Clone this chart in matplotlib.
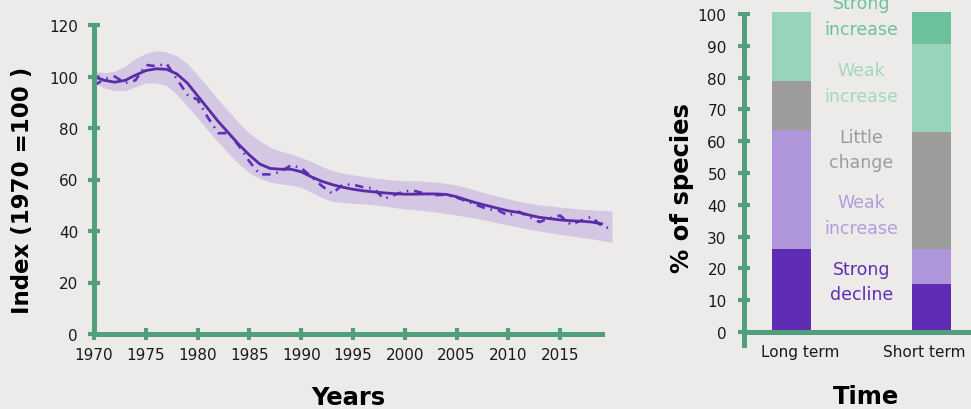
"""Index trend (1970 = 100) and share of species by trend category."""
import numpy as np
import matplotlib
matplotlib.use('Agg')
import matplotlib.pyplot as plt

BG = '#ECEBE9'
GREEN = '#529F7D'
PURPLE = '#5A2BA6'
BAND = '#D4C7E3'

# ── left panel data ──
years = np.arange(1970, 2021)
smooth = [100, 98.5, 97.8, 98.5, 100.5, 102.3, 103, 102.8, 101, 97.5,
          92.5, 87.5, 82.5, 78, 73.5, 69.5, 66, 64.3, 64, 64,
          63, 61, 59.3, 58, 57, 56.2, 55.6, 55.2, 54.8, 54.5,
          54.3, 54.3, 54.4, 54.4, 54.2, 53.3, 52, 50.8, 49.8, 48.8,
          47.8, 47.2, 46.2, 45.3, 44.8, 44.3, 44, 43.8, 43.5, 42.8]
raw = [96.5, 99, 100, 97.5, 98.5, 104.5, 104, 105, 99, 93,
       91, 84, 78, 78, 73, 67, 62, 62, 63, 65.5,
       64.5, 61, 57.5, 54.5, 58, 58, 57, 56.5, 52.5, 54,
       55.5, 55.5, 54.5, 54, 54, 53, 51.5, 50, 48.5, 48,
       46, 47.5, 45.5, 43.5, 45, 46, 42.5, 44, 45.5, 42,
       40.8]
upper = [102, 101.5, 102, 104, 107, 109, 110, 109.5, 108, 105,
         100.5, 96, 91, 86.5, 82, 78, 75, 72.5, 71, 70,
         68.5, 67, 65, 63.5, 62.5, 61.8, 61.2, 60.6, 60.2, 59.8,
         59.5, 59.5, 59.3, 59, 58.5, 57.8, 56.8, 55.6, 54.5, 53.5,
         52.5, 51.5, 50.8, 50.2, 49.8, 49.3, 48.9, 48.5, 48.2, 48,
         47.8]
lower = [97.5, 95.5, 94.5, 94.5, 96, 97.5, 97.5, 96.5, 93, 88.5,
         84, 79, 74.5, 70, 66, 62.5, 60.5, 59, 58.3, 57.8,
         57, 55, 53, 51.5, 51, 50.8, 50.5, 50.2, 49.7, 49.1,
         48.6, 48.2, 47.8, 47.4, 46.8, 46.2, 45.5, 44.8, 44, 43.1,
         42.3, 41.5, 40.7, 40, 39.3, 38.7, 38.1, 37.5, 37, 36.3,
         35.5]
baseline_years = [1970, 2019]
baseline = [100, 100]

# ── right panel data ──
periods = ['Long term', 'Short term']
categories = ['Strong decline', 'Weak decline', 'Little change',
              'Weak increase', 'Strong increase']
share_long = [26, 37.5, 15.5, 21.5, 0]
share_short = [15, 11, 37, 27.5, 10]
cat_colors = ['#5E2DB3', '#AF96DA', '#9C9C9A', '#98D4B9', '#6CC19D']
cat_labels = ['Strong\ndecline', 'Weak\nincrease', 'Little\nchange',
              'Weak\nincrease', 'Strong\nincrease']
label_colors = ['#5E2DB3', '#B39DDD', '#9C9C9A', '#A3D8BF', '#6CC19D']
label_y = [15.9, 36.8, 57.4, 78.3, 99.3]

W, H = 971, 410
plt.rcParams['font.family'] = ['DejaVu Sans']

fig = plt.figure(figsize=(W / 100, H / 100), dpi=100, facecolor=BG)


def px(x0, y0, w, h):
    # pixel box (top-left origin) -> figure fraction rect
    return [x0 / W, 1 - (y0 + h) / H, w / W, h / H]


def style_axis(ax):
    ax.set_facecolor(BG)
    for s in ('top', 'right'):
        ax.spines[s].set_visible(False)
    for s in ('left', 'bottom'):
        ax.spines[s].set_color(GREEN)
        ax.spines[s].set_linewidth(3.6)
    ax.tick_params(axis='both', colors=GREEN, labelcolor='#1A1A1A',
                   labelsize=11, direction='inout', length=9, width=3)


# ── left: index over time ──
ax = fig.add_axes(px(94, 26, 518, 309))
style_axis(ax)
ax.fill_between(years, lower, upper, color=BAND, lw=0, zorder=1)
ax.plot(baseline_years, baseline, color='black', lw=3.2,
        dashes=(0, 2.6), dash_capstyle='round', zorder=2)
ax.plot(years, raw, color='#5F30B8', lw=1.9,
        dashes=(3.2, 2.2, 0.6, 2.2), zorder=3)
ax.plot(years[:len(smooth)], smooth, color=PURPLE, lw=2.0, zorder=4)
ax.set_xlim(1970, 2020)
ax.set_ylim(0, 120)
ax.set_xticks(range(1970, 2020, 5))
ax.set_yticks(range(0, 121, 20))
ax.spines['bottom'].set_bounds(1970, 2019)
ax.tick_params(axis='y', pad=7)
ax.tick_params(axis='x', pad=5)
ax.spines['left'].set_zorder(5)

# ── right: share of species per category ──
ax2 = fig.add_axes(px(744, 10.2, 227, 335.5))
style_axis(ax2)
x = np.arange(len(periods))
bottoms = np.zeros(len(periods))
for i, col in enumerate(cat_colors):
    vals = np.array([share_long[i], share_short[i]])
    ax2.bar(x, vals, width=0.279, bottom=bottoms, color=col, lw=0,
            zorder=2)
    bottoms += vals
for txt, col, yv in zip(cat_labels, label_colors, label_y):
    ax2.text(0.5, yv, txt, color=col, ha='center', va='center',
             fontsize=12.5, linespacing=1.55)
ax2.set_xlim(-0.339, 1.282)
ax2.set_ylim(-4, 101.5)
ax2.spines['bottom'].set_position(('data', 0))
ax2.spines['left'].set_bounds(-4, 100)
ax2.set_yticks(range(0, 101, 10))
ax2.set_xticks([0.06, 0.946])
ax2.set_xticklabels(periods)
ax2.tick_params(axis='x', length=0, pad=9)
ax2.tick_params(axis='y', pad=8)

# axis titles
title_kw = dict(fontweight='heavy', color='black')
fig.text(348 / W, 1 - 398 / H, 'Years', ha='center', va='center',
         fontsize=17.5, **title_kw)
fig.text(866 / W, 1 - 397 / H, 'Time', ha='center', va='center',
         fontsize=17.5, **title_kw)
fig.text(23 / W, 1 - 190 / H, 'Index (1970 =100 )', rotation=90,
         ha='center', va='center', fontsize=16.5, **title_kw)
fig.text(682 / W, 1 - 188 / H, '% of species', rotation=90,
         ha='center', va='center', fontsize=17.5, **title_kw)

fig.savefig('out.png', dpi=100, facecolor=BG)
